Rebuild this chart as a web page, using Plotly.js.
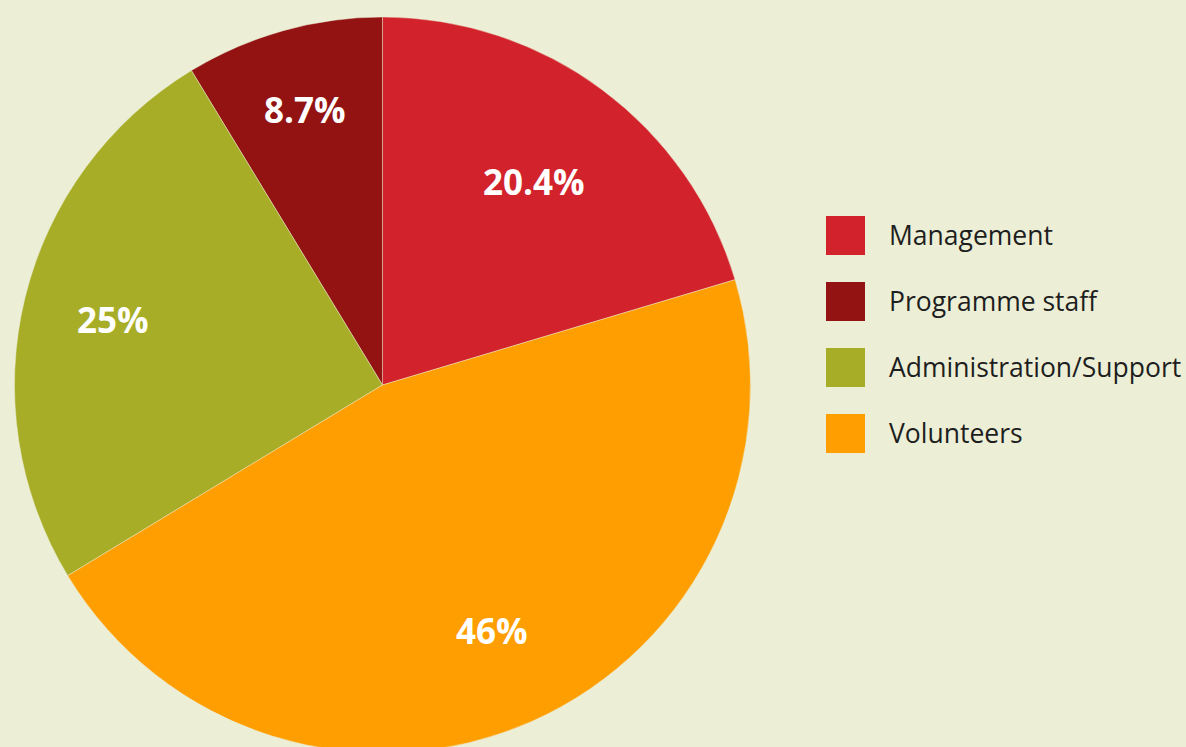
<!DOCTYPE html>
<html>
<head>
<meta charset="utf-8">
<script src="https://cdn.plot.ly/plotly-3.0.1.min.js"></script>
<style>
  html, body { margin: 0; padding: 0; overflow: hidden; background: #ECEFD6; }
  #chart { width: 1186px; height: 770px; }
</style>
</head>
<body>
<div id="chart"></div>
<script>
// ---- data ----
const categories = ["Management", "Programme staff", "Administration/Support", "Volunteers"];
const shares = [20.4, 8.7, 25, 46];
const shareLabels = ["20.4%", "8.7%", "25%", "46%"];
const colors = ["#D2232C", "#931313", "#A8AD27", "#FF9E00"];

// ---- layout constants (pixels) ----
const W = 1186, H = 770;
const BG = "#ECEFD6";
const pieLeft = 14, pieRight = 751, pieTop = 17, pieBottom = 753;
const labelRadiusFrac = [0.689, 0.777, 0.753, 0.731]; // label distance from centre, fraction of radius
const legSqX0 = 826, legSqSize = 39, legTop = 216, legStep = 66, legTextX = 887;

const px = x => x / W;
const py = y => 1 - y / H;

const total = shares.reduce((a, b) => a + b, 0);

const trace = {
  type: "pie",
  labels: categories,
  values: shares,
  sort: false,
  direction: "counterclockwise",
  rotation: 0,
  marker: { colors: colors, line: { color: "rgba(236,239,214,0.55)", width: 0.8 } },
  textinfo: "none",
  hoverinfo: "label+percent",
  domain: { x: [px(pieLeft), px(pieRight)], y: [py(pieBottom), py(pieTop)] },
  showlegend: false
};

const shapes = [];
const annotations = [];

// slice value labels, placed along each slice's middle angle (derived from the data)
const cx = (pieLeft + pieRight) / 2, cy = (pieTop + pieBottom) / 2;
const R = Math.min(pieRight - pieLeft, pieBottom - pieTop) / 2;
let startDeg = shares[0] / total * 360; // counterclockwise, first slice ends at 12 o'clock
shares.forEach((v, i) => {
  const span = v / total * 360;
  const mid = (startDeg - span / 2) * Math.PI / 180;
  startDeg -= span;
  const x = cx + labelRadiusFrac[i] * R * Math.sin(mid);
  const y = cy - labelRadiusFrac[i] * R * Math.cos(mid);
  annotations.push({
    xref: "paper", yref: "paper", x: px(x), y: py(y),
    xanchor: "center", yanchor: "middle", showarrow: false,
    text: "<b>" + shareLabels[i] + "</b>",
    font: { family: "Open Sans", size: 35, color: "#FFFFFF" }
  });
});

// legend
categories.forEach((name, i) => {
  const y0 = legTop + i * legStep;
  shapes.push({
    type: "rect", xref: "paper", yref: "paper",
    x0: px(legSqX0), x1: px(legSqX0 + legSqSize),
    y0: py(y0 + legSqSize), y1: py(y0),
    fillcolor: colors[i], line: { width: 0 }
  });
  annotations.push({
    xref: "paper", yref: "paper",
    x: px(legTextX), y: py(y0 + legSqSize / 2 - 1),
    xanchor: "left", yanchor: "middle",
    text: name, showarrow: false,
    font: { family: "Open Sans", size: 26.5, color: "#1E1E1E" }
  });
});

const layout = {
  width: W, height: H,
  margin: { l: 0, r: 0, t: 0, b: 0, pad: 0 },
  paper_bgcolor: BG, plot_bgcolor: BG,
  showlegend: false,
  shapes: shapes,
  annotations: annotations
};

Plotly.newPlot("chart", [trace], layout, { displayModeBar: false });
</script>
</body>
</html>
